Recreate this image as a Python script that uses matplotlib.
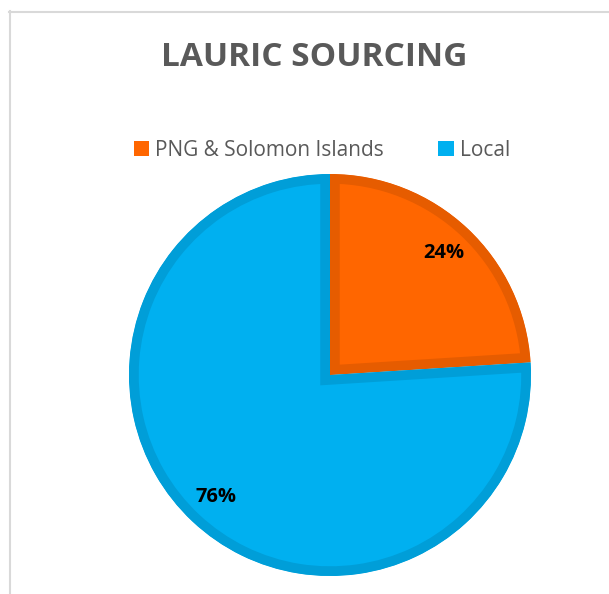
import matplotlib
matplotlib.use("Agg")
import matplotlib.pyplot as plt
from matplotlib.lines import Line2D

# data
categories = ["PNG & Solomon Islands", "Local"]
shares = [24, 76]
fill_colors = ["#FF6600", "#00B0F0"]
edge_colors = ["#E65C00", "#009ED8"]
title = "LAURIC SOURCING"

W, H = 609, 594
fig = plt.figure(figsize=(W / 100, H / 100), dpi=100)
plt.rcParams["font.family"] = ["Open Sans", "DejaVu Sans"]

# light chart-area frame (left and top edges visible)
fig.add_artist(Line2D([9.5 / W, 9.5 / W], [0, 1 - 11 / H],
                      transform=fig.transFigure, color="#D9D9D9", lw=1.5))
fig.add_artist(Line2D([9 / W, 1], [1 - 11.5 / H, 1 - 11.5 / H],
                      transform=fig.transFigure, color="#D9D9D9", lw=1.5))

# pie centred at (330, 375) px with radius 201 px
cx, cy, r = 330, 375, 201
ax = fig.add_axes([(cx - r) / W, (H - cy - r) / H, 2 * r / W, 2 * r / H])
wedges, texts, autotexts = ax.pie(
    shares, colors=fill_colors, startangle=90, counterclock=False,
    autopct="%d%%", pctdistance=0.83, radius=1,
    textprops=dict(fontsize=14.5, fontweight="bold", color="black"),
)
for w, ec in zip(wedges, edge_colors):
    # inner stroke: thick edge clipped to the wedge itself
    w.set_edgecolor(ec)
    w.set_linewidth(14)
    w.set_clip_on(True)
    w.set_clip_path(w)
ax.set_xlim(-1, 1)
ax.set_ylim(-1, 1)
ax.set_aspect("auto")
ax.axis("off")

fig.text(314 / W, 1 - 57 / H, title, ha="center", va="center",
         fontsize=24, fontweight="bold", color="#595959")

handles = [plt.Rectangle((0, 0), 1, 1, facecolor=c) for c in fill_colors]
fig.legend(handles, categories, loc="center", bbox_to_anchor=(322 / W, 1 - 150 / H),
           ncol=2, frameon=False, fontsize=15, labelcolor="#595959",
           handlelength=0.75, handleheight=0.75, handletextpad=0.3,
           columnspacing=2.6)

fig.savefig("out.png", dpi=100)
